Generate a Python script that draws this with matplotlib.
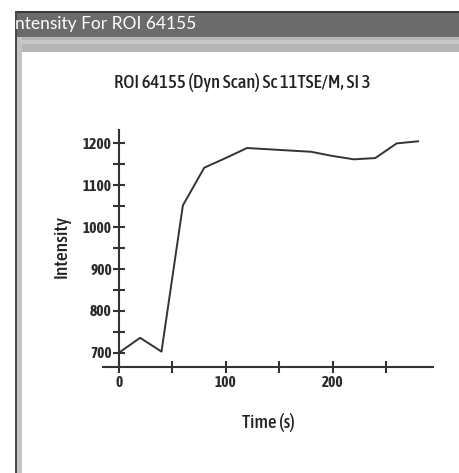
import matplotlib
matplotlib.use("Agg")
import matplotlib.pyplot as plt
from matplotlib.patches import Rectangle

time_s = [0, 20, 40, 60, 80, 100, 120, 140, 160, 180, 200, 220, 240, 260, 280]
intensity = [700, 736, 703, 1052, 1142, 1165, 1189, 1186, 1183, 1180, 1170, 1162, 1165, 1200, 1205]
x_ticks = [0, 100, 200]
y_ticks = [700, 800, 900, 1000, 1100, 1200]

W, H = 459, 473
fig = plt.figure(figsize=(W / 100, H / 100), dpi=100)
fig.patch.set_facecolor("white")

def px_rect(x0, y0, x1, y1, color):
    fig.patches.append(Rectangle((x0 / W, 1 - y1 / H), (x1 - x0) / W, (y1 - y0) / H,
                                 transform=fig.transFigure, facecolor=color,
                                 edgecolor="none", zorder=0))

# window chrome
px_rect(15, 11, W, 37, "#6b6b6b")
px_rect(15, 11, W, 13, "#3a3a3a")
px_rect(15, 37, W, 52, "#b5b5b5")
px_rect(15, 40, W, 44, "#c8c8c8")
px_rect(15, 11, 17, H, "#4a4a4a")
px_rect(17, 37, 22, H, "#c4c4c4")

fig.text(15 / W, 1 - 24 / H, "ntensity For ROI 64155", color="white", fontsize=12.5,
         family=["Lato", "DejaVu Sans"], va="center", ha="left")

FAM = ["Asap Condensed", "Archivo Narrow", "Liberation Sans", "DejaVu Sans"]
fig.text(242 / W, 1 - 82 / H, "ROI 64155 (Dyn Scan) Sc 11TSE/M, SI 3",
         family=FAM, fontsize=13.5, weight=500, color="#222222", ha="center", va="center")

ax = fig.add_axes([102.7 / W, 1 - 366.7 / H, (433 - 102.7) / W, (366.7 - 130) / H])
ax.set_facecolor("none")
ax.plot(time_s, intensity, color="#333333", lw=1.4)
ax.set_xlim(-15, 294)
ax.set_ylim(667, 1232)

for s in ["top", "right"]:
    ax.spines[s].set_visible(False)
ax.spines["left"].set_position(("data", 0))
ax.spines["left"].set_bounds(667, 1232)
for s in ["left", "bottom"]:
    ax.spines[s].set_linewidth(1.5)
    ax.spines[s].set_color("#333333")

xt = [0, 50, 100, 150, 200, 250]
ax.set_xticks(xt)
ax.set_xticklabels([str(v) if v in x_ticks else "" for v in xt])
yt = [700, 750, 800, 850, 900, 950, 1000, 1050, 1100, 1150, 1200]
ax.set_yticks(yt)
ax.set_yticklabels([str(v) if v in y_ticks else "" for v in yt])
ax.tick_params(direction="inout", length=8, width=1.5, color="#333333",
               labelsize=11, labelcolor="#2a2a2a")
ax.tick_params(axis="x", pad=3)
ax.tick_params(axis="y", pad=1)
for lab in ax.get_xticklabels() + ax.get_yticklabels():
    lab.set_family(FAM)
    lab.set_fontweight(700)

fig.text(62 / W, 1 - 246 / H, "Intensity", rotation=90, ha="center", va="center",
         family=FAM, fontsize=14, weight=500, color="#222222")
fig.text(268 / W, 1 - 422 / H, "Time (s)", ha="center", va="center",
         family=FAM, fontsize=13.5, weight=500, color="#222222")

fig.savefig("out.png", dpi=100)
